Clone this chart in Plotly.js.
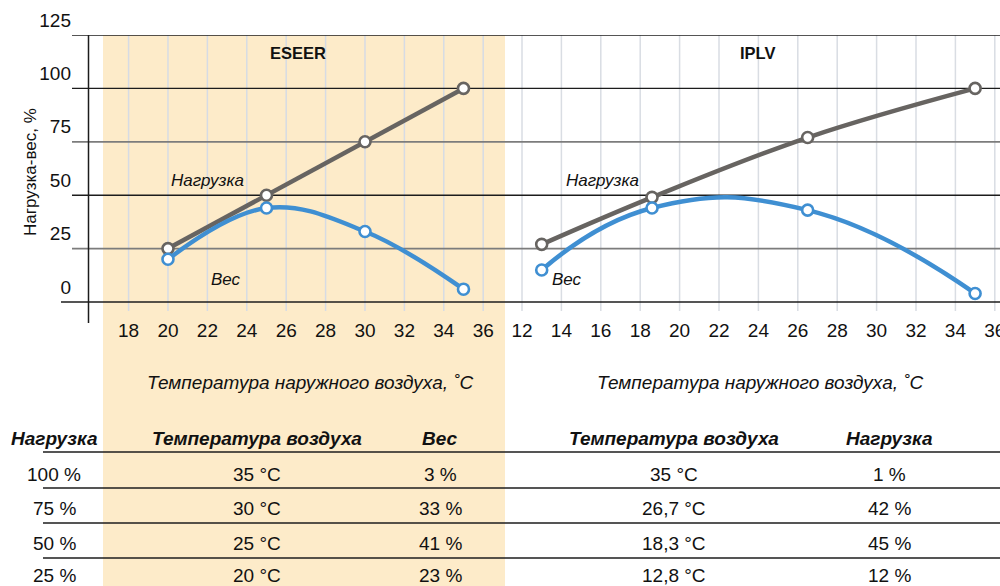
<!DOCTYPE html>
<html>
<head>
<meta charset="utf-8">
<script src="https://cdn.plot.ly/plotly-3.0.1.min.js"></script>
<style>html,body{margin:0;padding:0;background:#fff;}#chart{width:1000px;height:586px;}</style>
</head>
<body>
<div id="chart"></div>
<script>
// ---- data ----
var eseerTemp = [20, 25, 30, 35];
var eseerLoad = [25, 50, 75, 100];
var eseerWeight = [20, 44, 33, 6];
var iplvTemp = [13, 18.6, 26.5, 35];
var iplvLoad = [27, 49, 77, 100];
var iplvWeight = [15, 44, 43, 4];

var yTicks = [0, 25, 50, 75, 100, 125];
var xTicksLeft = [18, 20, 22, 24, 26, 28, 30, 32, 34, 36];
var xTicksRight = [12, 14, 16, 18, 20, 22, 24, 26, 28, 30, 32, 34, 36];

var panelTitles = ['ESEER', 'IPLV'];
var seriesNames = ['Нагрузка', 'Вес'];
var yTitle = 'Нагрузка-вес, %';
var xTitle = 'Температура наружного воздуха, ˚C';

var tableHeaders = ['Нагрузка', 'Температура воздуха', 'Вес', 'Температура воздуха', 'Нагрузка'];
var tableLoad = ['100 %', '75 %', '50 %', '25 %'];
var eseerTableTemp = ['35 °C', '30 °C', '25 °C', '20 °C'];
var eseerTableWeight = ['3 %', '33 %', '41 %', '23 %'];
var iplvTableTemp = ['35 °C', '26,7 °C', '18,3 °C', '12,8 °C'];
var iplvTableWeight = ['1 %', '42 %', '45 %', '12 %'];

// ---- styling / layout helpers ----
var W = 1000, H = 586;
function PX(p) { return p / W; }
function PY(p) { return 1 - p / H; }
var FONT = 'Liberation Sans, Arial, Helvetica, sans-serif';
var GRAY = '#676461', BLUE = '#3f8fd2', SHADE = '#fdebc9';

function lineTrace(x, y, xa, color, shape, smoothing) {
  return {
    x: x, y: y, xaxis: xa, yaxis: 'y', type: 'scatter', mode: 'lines+markers',
    line: {color: color, width: 4.5, shape: shape, smoothing: smoothing},
    marker: {size: 11, color: '#ffffff', line: {color: color, width: 2.6}},
    hoverinfo: 'skip', cliponaxis: false
  };
}

var data = [
  lineTrace(eseerTemp, eseerLoad, 'x', GRAY, 'linear', 1),
  lineTrace(eseerTemp, eseerWeight, 'x', BLUE, 'spline', 1.1),
  lineTrace(iplvTemp, iplvLoad, 'x2', GRAY, 'spline', 1.1),
  lineTrace(iplvTemp, iplvWeight, 'x2', BLUE, 'spline', 1.3)
];

var shapes = [];
// shaded ESEER column
shapes.push({type: 'rect', xref: 'paper', yref: 'paper', x0: PX(103), x1: PX(505), y0: PY(35), y1: PY(586),
  fillcolor: SHADE, line: {width: 0}, layer: 'below'});
// vertical grid lines
xTicksLeft.forEach(function (t) {
  shapes.push({type: 'line', xref: 'x', yref: 'paper', x0: t, x1: t, y0: PY(35), y1: PY(311),
    line: {color: '#d6dbe4', width: 1.5}, layer: 'below'});
});
xTicksRight.forEach(function (t) {
  shapes.push({type: 'line', xref: 'x2', yref: 'paper', x0: t, x1: t, y0: PY(35), y1: PY(311),
    line: {color: '#d9dde3', width: 1.5}, layer: 'below'});
});
// horizontal lines
yTicks.forEach(function (v) {
  var dark = (v % 50 === 0) || v === 125;
  shapes.push({type: 'line', xref: 'paper', yref: 'y', x0: PX(v === 0 ? 61 : 72), x1: 1, y0: v, y1: v,
    line: {color: dark ? '#1c1c1c' : '#7c7c7c', width: dark ? 1.4 : 1.8}, layer: 'below'});
});
// y axis line
shapes.push({type: 'line', xref: 'paper', yref: 'paper', x0: PX(88.5), x1: PX(88.5), y0: PY(35), y1: PY(323),
  line: {color: '#1c1c1c', width: 1.5}, layer: 'below'});
// table lines
[452, 488, 523, 558].forEach(function (py) {
  shapes.push({type: 'line', xref: 'paper', yref: 'paper', x0: PX(43), x1: 1, y0: PY(py), y1: PY(py),
    line: {color: '#1c1c1c', width: 1.4}, layer: 'below'});
});

var annotations = [];
function ann(text, x, y, opts) {
  var a = {text: text, xref: 'paper', yref: 'paper', x: PX(x), y: PY(y), xanchor: 'center', yanchor: 'middle',
    showarrow: false, font: {family: FONT, size: 19, color: '#111'}};
  for (var k in opts) { a[k] = opts[k]; }
  return a;
}
// panel titles
annotations.push(ann('<b>' + panelTitles[0] + '</b>', 298, 53, {font: {family: FONT, size: 16.5, color: '#111'}}));
annotations.push(ann('<b>' + panelTitles[1] + '</b>', 757, 53, {font: {family: FONT, size: 16.5, color: '#111'}}));
// series labels
annotations.push(ann('<i>' + seriesNames[0] + '</i>', 207, 180, {font: {family: FONT, size: 17, color: '#111'}}));
annotations.push(ann('<i>' + seriesNames[1] + '</i>', 226, 279, {font: {family: FONT, size: 17, color: '#111'}}));
annotations.push(ann('<i>' + seriesNames[0] + '</i>', 602, 180, {font: {family: FONT, size: 17, color: '#111'}}));
annotations.push(ann('<i>' + seriesNames[1] + '</i>', 567, 279, {font: {family: FONT, size: 17, color: '#111'}}));
// axis titles
annotations.push(ann(yTitle, 31, 172, {textangle: -90, font: {family: FONT, size: 17, color: '#111'}}));
annotations.push(ann('<i>' + xTitle + '</i>', 310, 382));
annotations.push(ann('<i>' + xTitle + '</i>', 760, 382));
// table header
var headerX = [54, 257, 440, 674, 889];
tableHeaders.forEach(function (h, i) {
  annotations.push(ann('<b><i>' + h + '</i></b>', headerX[i], 438));
});
var rowY = [474, 508, 543, 575];
var cols = [tableLoad, eseerTableTemp, eseerTableWeight, iplvTableTemp, iplvTableWeight];
cols.forEach(function (col, ci) {
  col.forEach(function (txt, ri) {
    annotations.push(ann(txt, headerX[ci], rowY[ri]));
  });
});

var tickFont = {family: FONT, size: 19, color: '#111'};
var layout = {
  width: W, height: H,
  margin: {l: 0, r: 0, t: 0, b: 0, pad: 0},
  paper_bgcolor: '#ffffff', plot_bgcolor: 'rgba(0,0,0,0)',
  showlegend: false,
  xaxis: {domain: [0.088, 0.505], range: [15.94, 37.107], tickvals: xTicksLeft, ticktext: xTicksLeft.map(String),
    showgrid: false, zeroline: false, showline: false, ticks: '', tickfont: tickFont, ticklabelstandoff: 7,
    ticklabeloverflow: 'allow', anchor: 'y', fixedrange: true},
  xaxis2: {domain: [0.505, 1.0], range: [11.137, 36.264], tickvals: xTicksRight, ticktext: xTicksRight.map(String),
    showgrid: false, zeroline: false, showline: false, ticks: '', tickfont: tickFont, ticklabelstandoff: 7,
    ticklabeloverflow: 'allow', anchor: 'y', fixedrange: true},
  yaxis: {domain: [1 - 310 / H, 1 - 35 / H], range: [-3.745, 125], tickvals: yTicks, ticktext: yTicks.map(String),
    showgrid: false, zeroline: false, showline: false, ticks: '', tickfont: tickFont,
    ticklabelshift: -15, ticklabelstandoff: 16, anchor: 'x', fixedrange: true},
  shapes: shapes,
  annotations: annotations
};

Plotly.newPlot('chart', data, layout, {displayModeBar: false, staticPlot: true});
</script>
</body>
</html>
